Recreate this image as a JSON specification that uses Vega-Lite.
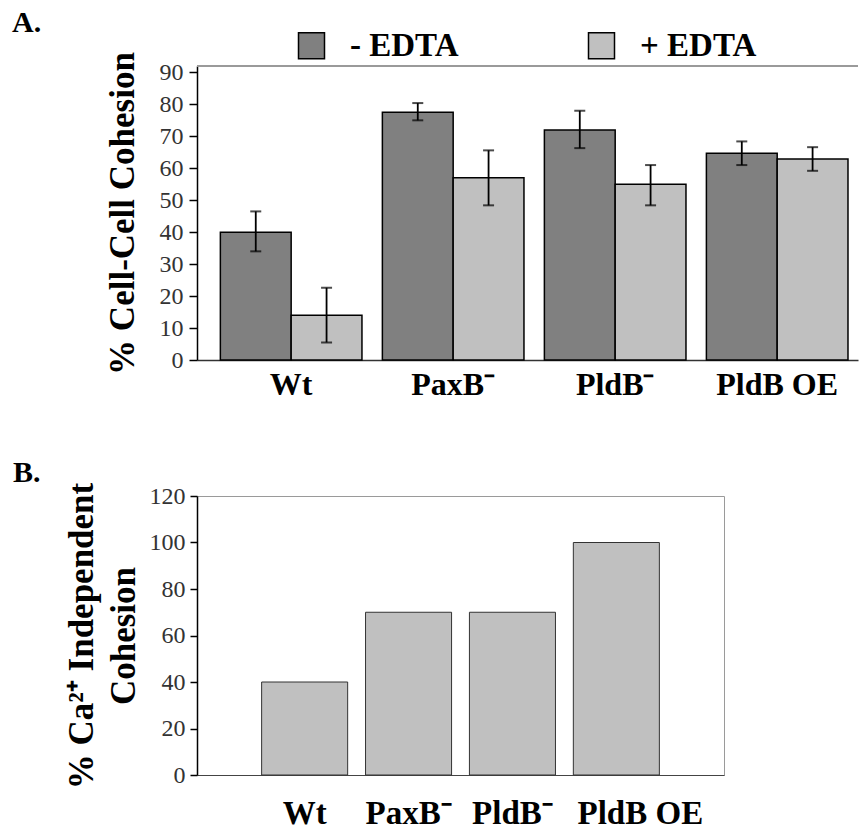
{
  "$schema": "https://vega.github.io/schema/vega-lite/v6.json",
  "padding": {"left": 12, "top": 7, "right": 0, "bottom": 0},
  "bounds": "flush",
  "spacing": 136,
  "config": {
    "view": {"stroke": "#9a9a9a", "strokeWidth": 1.5},
    "font": "Liberation Serif",
    "axis": {
      "grid": false,
      "domainColor": "#000",
      "domainWidth": 1.5,
      "tickColor": "#000",
      "tickWidth": 1.5,
      "labelFont": "Liberation Serif",
      "titleFont": "Liberation Serif",
      "labelColor": "#333",
      "titleColor": "#000"
    },
    "title": {
      "font": "Liberation Serif",
      "fontSize": 30,
      "fontWeight": "bold",
      "color": "#000",
      "anchor": "start",
      "frame": "group"
    }
  },
  "vconcat": [
    {
      "width": 661,
      "height": 294,
      "title": {"text": "A.", "dx": -185, "offset": 14},
      "view": {"stroke": null},
      "data": {
        "values": [
          {"strain": "Wt", "treatment": "- EDTA", "value": 40, "lo": 34, "hi": 46.5},
          {"strain": "Wt", "treatment": "+ EDTA", "value": 14, "lo": 5.5, "hi": 22.6},
          {"strain": "PaxB⁻", "treatment": "- EDTA", "value": 77.5, "lo": 75, "hi": 80.4},
          {"strain": "PaxB⁻", "treatment": "+ EDTA", "value": 57, "lo": 48.4, "hi": 65.6},
          {"strain": "PldB⁻", "treatment": "- EDTA", "value": 72, "lo": 66.3, "hi": 78},
          {"strain": "PldB⁻", "treatment": "+ EDTA", "value": 55, "lo": 48.4, "hi": 61},
          {"strain": "PldB OE", "treatment": "- EDTA", "value": 64.7, "lo": 61, "hi": 68.4},
          {"strain": "PldB OE", "treatment": "+ EDTA", "value": 62.9, "lo": 59.2, "hi": 66.6}
        ]
      },
      "encoding": {
        "x": {
          "field": "strain",
          "type": "nominal",
          "sort": null,
          "scale": {"paddingInner": 0.126, "paddingOuter": 0.103, "align": 0.7},
          "axis": {
            "title": null,
            "labelAngle": 0,
            "ticks": false,
            "tickSize": 0,
            "labelPadding": 9,
            "labelFontSize": 32,
            "labelFontWeight": "bold",
            "labelColor": "#000",
            "domainColor": "#333",
            "domainWidth": 1.5
          }
        },
        "xOffset": {
          "field": "treatment",
          "type": "nominal",
          "scale": {"domain": ["- EDTA", "+ EDTA"]}
        }
      },
      "layer": [
        {
          "mark": {"type": "rule", "color": "#9a9a9a", "strokeWidth": 1.5},
          "encoding": {
            "y": {"datum": 92, "type": "quantitative", "title": "% Cell-Cell Cohesion",
              "scale": {"domain": [0, 92], "nice": false},
              "axis": {"values": [0, 10, 20, 30, 40, 50, 60, 70, 80, 90], "tickSize": 8, "labelPadding": 6, "labelFontSize": 24, "titleFontSize": 35, "titleFontWeight": "bold", "titlePadding": 19}
            },
            "x": {"value": 0},
            "x2": {"value": "width"},
            "xOffset": {"value": 0}
          }
        },
        {
          "mark": {"type": "bar", "stroke": "#000", "strokeWidth": 1.5},
          "encoding": {
            "y": {
              "field": "value",
              "type": "quantitative",
              "title": "% Cell-Cell Cohesion",
              "axis": {"values": [0, 10, 20, 30, 40, 50, 60, 70, 80, 90], "tickSize": 8, "labelPadding": 6, "labelFontSize": 24, "titleFontSize": 35, "titleFontWeight": "bold", "titlePadding": 19}
            },
            "color": {
              "field": "treatment",
              "type": "nominal",
              "scale": {"domain": ["- EDTA", "+ EDTA"], "range": ["#808080", "#c0c0c0"]},
              "legend": {
                "title": null,
                "orient": "none",
                "legendX": 98,
                "legendY": -37,
                "direction": "horizontal",
                "columnPadding": 126,
                "symbolType": "square",
                "symbolSize": 676,
                "symbolOpacity": 1,
                "labelFont": "Liberation Serif",
                "labelFontSize": 33,
                "labelFontWeight": "bold",
                "labelColor": "#000",
                "labelOffset": 22,
                "labelLimit": 300,
                "encode": {
                  "symbols": {
                    "update": {
                      "stroke": {"value": "#000"},
                      "strokeWidth": {"value": 1.5}
                    }
                  }
                }
              }
            }
          }
        },
        {
          "mark": {"type": "rule", "color": "#000", "strokeWidth": 1.8},
          "encoding": {
            "y": {"field": "lo", "type": "quantitative", "title": "% Cell-Cell Cohesion",
              "axis": {"values": [0, 10, 20, 30, 40, 50, 60, 70, 80, 90], "tickSize": 8, "labelPadding": 6, "labelFontSize": 24, "titleFontSize": 35, "titleFontWeight": "bold", "titlePadding": 19}
            },
            "y2": {"field": "hi"}
          }
        },
        {
          "mark": {"type": "tick", "color": "#000", "size": 11, "thickness": 2},
          "encoding": {
            "y": {"field": "lo", "type": "quantitative", "title": "% Cell-Cell Cohesion",
              "axis": {"values": [0, 10, 20, 30, 40, 50, 60, 70, 80, 90], "tickSize": 8, "labelPadding": 6, "labelFontSize": 24, "titleFontSize": 35, "titleFontWeight": "bold", "titlePadding": 19}
            }
          }
        },
        {
          "mark": {"type": "tick", "color": "#000", "size": 11, "thickness": 2},
          "encoding": {
            "y": {"field": "hi", "type": "quantitative", "title": "% Cell-Cell Cohesion",
              "axis": {"values": [0, 10, 20, 30, 40, 50, 60, 70, 80, 90], "tickSize": 8, "labelPadding": 6, "labelFontSize": 24, "titleFontSize": 35, "titleFontWeight": "bold", "titlePadding": 19}
            }
          }
        }
      ]
    },
    {
      "width": 527,
      "height": 279,
      "title": {"text": "B.", "dx": -184, "offset": -6},
      "view": {"stroke": "#9a9a9a", "strokeWidth": 1},
      "data": {
        "values": [
          {"strain": "Wt", "value": 40},
          {"strain": "PaxB⁻", "value": 70},
          {"strain": "PldB⁻", "value": 70},
          {"strain": "PldB OE", "value": 100}
        ]
      },
      "mark": {"type": "bar", "color": "#c0c0c0", "stroke": "#333", "strokeWidth": 1},
      "encoding": {
        "x": {
          "field": "strain",
          "type": "nominal",
          "sort": null,
          "scale": {"paddingInner": 0.172, "paddingOuter": 0.622},
          "axis": {
            "title": null,
            "labelAngle": 0,
            "ticks": false,
            "tickSize": 0,
            "labelPadding": 22,
            "labelFontSize": 33,
            "labelFontWeight": "bold",
            "labelColor": "#000",
            "labelOffset": {"condition": {"test": "datum.value === 'PldB OE'", "value": 24}, "value": 0},
            "domainColor": "#444",
            "domainWidth": 1
          }
        },
        "y": {
          "field": "value",
          "type": "quantitative",
          "scale": {"domain": [0, 120], "nice": false},
          "axis": {
            "values": [0, 20, 40, 60, 80, 100, 120],
            "title": ["% Ca²⁺ Independent", "Cohesion"],
            "titleFontSize": 35,
            "titleFontWeight": "bold",
            "titleLineHeight": 42,
            "titlePadding": 8,
            "tickSize": 7,
            "labelPadding": 5,
            "labelFontSize": 24
          }
        }
      }
    }
  ]
}
